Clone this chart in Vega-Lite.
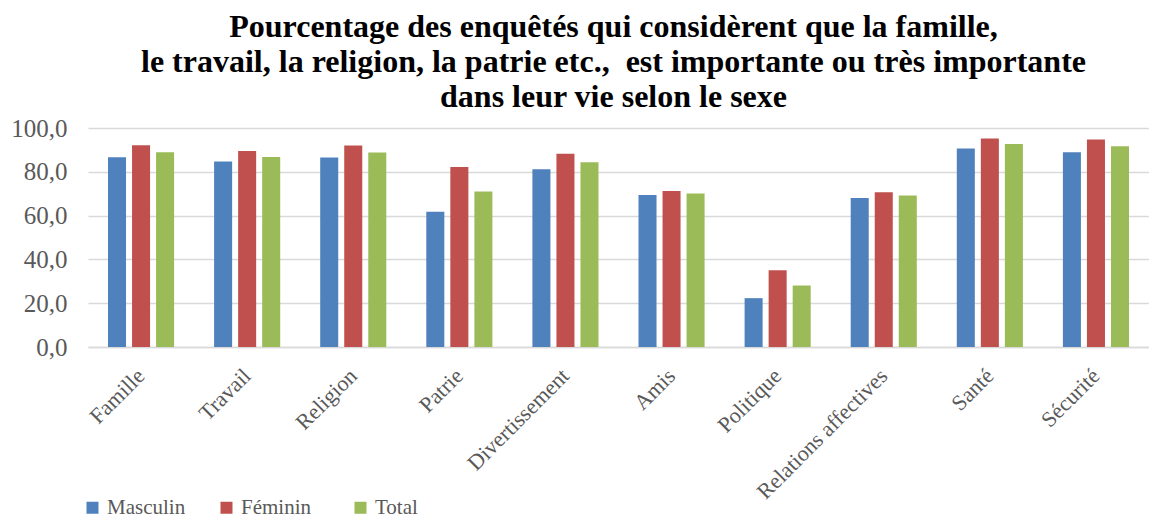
{
  "$schema": "https://vega.github.io/schema/vega-lite/v6.json",
  "width": 1061,
  "height": 219,
  "autosize": {"type": "none"},
  "padding": {"left": 88, "top": 128, "right": 0, "bottom": 173},
  "background": "white",
  "title": {
    "text": ["Pourcentage des enquêtés qui considèrent que la famille,", "le travail, la religion, la patrie etc., \u00a0est importante ou très importante", "dans leur vie selon le sexe"],
    "font": "Liberation Serif",
    "fontSize": 32,
    "fontWeight": "bold",
    "color": "#000000",
    "lineHeight": 35,
    "anchor": "middle",
    "frame": "group",
    "offset": 2,
    "dx": -5
  },
  "data": {
    "values": [
      {"categorie": "Famille", "sexe": "Masculin", "valeur": 86.7},
      {"categorie": "Famille", "sexe": "Féminin", "valeur": 92.1},
      {"categorie": "Famille", "sexe": "Total", "valeur": 88.9},
      {"categorie": "Travail", "sexe": "Masculin", "valeur": 84.7},
      {"categorie": "Travail", "sexe": "Féminin", "valeur": 89.5},
      {"categorie": "Travail", "sexe": "Total", "valeur": 86.8},
      {"categorie": "Religion", "sexe": "Masculin", "valeur": 86.5},
      {"categorie": "Religion", "sexe": "Féminin", "valeur": 92.0},
      {"categorie": "Religion", "sexe": "Total", "valeur": 88.8},
      {"categorie": "Patrie", "sexe": "Masculin", "valeur": 61.8},
      {"categorie": "Patrie", "sexe": "Féminin", "valeur": 82.2},
      {"categorie": "Patrie", "sexe": "Total", "valeur": 71.0},
      {"categorie": "Divertissement", "sexe": "Masculin", "valeur": 81.2},
      {"categorie": "Divertissement", "sexe": "Féminin", "valeur": 88.2},
      {"categorie": "Divertissement", "sexe": "Total", "valeur": 84.4},
      {"categorie": "Amis", "sexe": "Masculin", "valeur": 69.4},
      {"categorie": "Amis", "sexe": "Féminin", "valeur": 71.2},
      {"categorie": "Amis", "sexe": "Total", "valeur": 70.1},
      {"categorie": "Politique", "sexe": "Masculin", "valeur": 22.3},
      {"categorie": "Politique", "sexe": "Féminin", "valeur": 35.1},
      {"categorie": "Politique", "sexe": "Total", "valeur": 28.1},
      {"categorie": "Relations affectives", "sexe": "Masculin", "valeur": 68.0},
      {"categorie": "Relations affectives", "sexe": "Féminin", "valeur": 70.7},
      {"categorie": "Relations affectives", "sexe": "Total", "valeur": 69.2},
      {"categorie": "Santé", "sexe": "Masculin", "valeur": 90.6},
      {"categorie": "Santé", "sexe": "Féminin", "valeur": 95.2},
      {"categorie": "Santé", "sexe": "Total", "valeur": 92.7},
      {"categorie": "Sécurité", "sexe": "Masculin", "valeur": 88.9},
      {"categorie": "Sécurité", "sexe": "Féminin", "valeur": 94.7},
      {"categorie": "Sécurité", "sexe": "Total", "valeur": 91.7}
    ]
  },
  "mark": {"type": "bar"},
  "encoding": {
    "x": {
      "field": "categorie",
      "type": "nominal",
      "sort": null,
      "scale": {"paddingInner": 0.377, "paddingOuter": 0.1885},
      "axis": {
        "title": null,
        "labelAngle": -45,
        "labelAlign": "right",
        "labelBaseline": "middle",
        "labelPadding": 25,
        "labelFont": "Liberation Serif",
        "labelFontSize": 22,
        "labelColor": "#595959",
        "ticks": false,
        "domainColor": "#d9d9d9",
        "domainWidth": 1.5,
        "grid": false,
        "labelLimit": 400
      }
    },
    "xOffset": {
      "field": "sexe",
      "type": "nominal",
      "sort": ["Masculin", "Féminin", "Total"],
      "scale": {"paddingInner": 0.25, "paddingOuter": 0}
    },
    "y": {
      "field": "valeur",
      "type": "quantitative",
      "scale": {"domain": [0, 100], "nice": false},
      "axis": {
        "title": null,
        "values": [0, 20, 40, 60, 80, 100],
        "labelExpr": "replace(format(datum.value, '.1f'), '.', ',')",
        "labelFont": "Liberation Serif",
        "labelFontSize": 25,
        "labelColor": "#595959",
        "labelPadding": 21,
        "domain": false,
        "ticks": false,
        "gridColor": "#d9d9d9",
        "gridWidth": 1.5
      }
    },
    "color": {
      "field": "sexe",
      "type": "nominal",
      "sort": ["Masculin", "Féminin", "Total"],
      "scale": {"domain": ["Masculin", "Féminin", "Total"], "range": ["#4f81bd", "#c0504d", "#9bbb59"]},
      "legend": {
        "title": null,
        "orient": "none",
        "legendX": -6,
        "legendY": 369,
        "direction": "horizontal",
        "columns": 3,
        "gridAlign": "all",
        "columnPadding": 30,
        "symbolType": "square",
        "symbolSize": 144,
        "symbolStrokeWidth": 0,
        "labelFont": "Liberation Serif",
        "labelFontSize": 21,
        "labelColor": "#595959",
        "labelOffset": 4
      }
    }
  },
  "config": {
    "font": "Liberation Serif",
    "view": {"stroke": null},
    "legend": {"labelFont": "Liberation Serif", "labelFontSize": 21}
  }
}
